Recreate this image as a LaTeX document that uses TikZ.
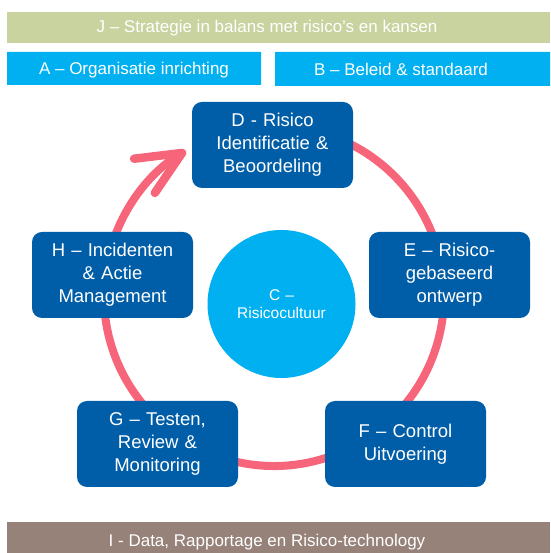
\documentclass[tikz,border=0pt]{standalone}
\usepackage{fontspec}
\setmainfont{Liberation Sans}
\usetikzlibrary{arrows.meta}
\definecolor{olijf}{RGB}{200,211,160}
\definecolor{cyaan}{RGB}{0,176,240}
\definecolor{donkerblauw}{RGB}{0,94,168}
\definecolor{roze}{RGB}{247,101,122}
\definecolor{taupe}{RGB}{150,130,121}
\begin{document}
\begin{tikzpicture}[x=1pt, y=1pt,
    balktekst/.style={text=white, font=\fontsize{17}{20}\selectfont, anchor=base},
    blok/.style={fill=donkerblauw, rounded corners=10pt, minimum width=161pt,
                 minimum height=86pt, text width=150pt, align=center, text=white,
                 font=\fontsize{18.5}{23}\selectfont, inner sep=0pt},
    kern/.style={circle, fill=cyaan, minimum size=148pt, text width=120pt, align=center,
                 text=white, font=\fontsize{15.5}{18}\selectfont, inner sep=0pt},
    ring/.style={draw=roze, line width=8pt,
                 -{Straight Barb[length=44pt, width=40pt, round, line width=8.5pt]}}]
    \useasboundingbox (0, 0) rectangle (550, 553);
    \fill[olijf] (7, 510) rectangle (550, 541);
    \fill[cyaan] (7, 468) rectangle (261, 501)
                 (275, 467) rectangle (550, 501);
    \fill[taupe] (7, 0) rectangle (550, 31);
    \draw (267, 520) node (j) [balktekst] {J – Strategie in balans met risico’s en kansen}
          (134, 478) node (a) [balktekst] {A – Organisatie inrichting}
          (401, 477) node (b) [balktekst] {B – Beleid \& standaard}
          (267, 6) node (i) [balktekst] {I - Data, Rapportage en Risico-technology};
    \coordinate (mid) at (274, 257);
    \draw[ring] (mid) ++(75:170) arc[start angle=75, end angle=-238.7, radius=170];
    \draw (281.5, 249) node (c) [kern] {C –\\ Risicocultuur}
          (272.5, 408) node (d) [blok] {D - Risico\\ Identificatie \&\\ Beoordeling}
          (449.5, 278) node (e) [blok] {E – Risico-\\ gebaseerd\\ ontwerp}
          (405.5, 109) node (f) [blok] {F – Control\\ Uitvoering}
          (157.5, 109) node (g) [blok] {G – Testen,\\ Review \&\\ Monitoring}
          (112.5, 278) node (h) [blok] {H – Incidenten\\ \& Actie\\ Management};
\end{tikzpicture}
\end{document}
